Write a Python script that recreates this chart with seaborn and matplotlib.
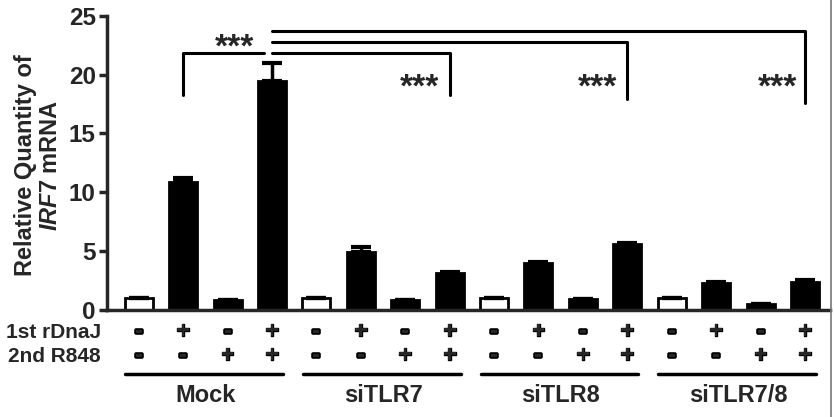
import numpy as np
import pandas as pd
import matplotlib
matplotlib.use('Agg')
import matplotlib.pyplot as plt
import matplotlib.transforms as mtransforms
import matplotlib.patheffects as pe
import seaborn as sns

sns.set_style('ticks')
plt.rcParams['font.family'] = ['Liberation Sans', 'DejaVu Sans']
plt.rcParams['font.weight'] = 'bold'
plt.rcParams['mathtext.fontset'] = 'custom'
plt.rcParams['mathtext.it'] = 'Liberation Sans:italic:bold'
plt.rcParams['mathtext.rm'] = 'Liberation Sans:bold'

# data
groups = ['Mock', 'siTLR7', 'siTLR8', 'siTLR7/8']
rdnaj = ['-', '+', '-', '+'] * 4
r848 = ['-', '-', '+', '+'] * 4
values = [1.0, 10.9, 0.85, 19.5,
          1.0, 4.95, 0.8, 3.1,
          1.0, 4.0, 0.95, 5.6,
          1.0, 2.3, 0.5, 2.4]
errors = [0, 0.35, 0, 1.45,
          0, 0.4, 0, 0.1,
          0, 0.05, 0, 0.05,
          0, 0.05, 0, 0.1]
fills = ['white' if (a == '-' and b == '-') else 'black' for a, b in zip(rdnaj, r848)]

df = pd.DataFrame({
    'bar': [str(i) for i in range(len(values))],
    'value': values,
    'fill': fills,
})

fig = plt.figure(figsize=(8.34, 4.17), dpi=100)
ax = fig.add_axes([0.128, 0.257, 0.867, 0.705])

sns.barplot(data=df, x='bar', y='value', hue='fill',
            palette={'white': 'white', 'black': 'black'},
            dodge=False, legend=False, width=0.63,
            edgecolor='black', linewidth=2, ax=ax)

xpos = np.arange(len(values))
ax.errorbar(xpos, values, yerr=[np.zeros(len(errors)), errors], fmt='none',
            ecolor='black', elinewidth=2.5, capsize=7, capthick=3)

ax.set_xlim(-0.72, 15.56)
ax.set_ylim(0, 25)
ax.set_yticks([0, 5, 10, 15, 20, 25])
ax.set_xticks([])
ax.set_xlabel('')
ax.set_ylabel('Relative Quantity of\n$\\mathit{IRF7}$ mRNA', fontsize=17,
              fontweight='bold', linespacing=1.1)
ax.yaxis.set_label_coords(-0.062, 0.493)
ax.tick_params(axis='y', labelsize=17.5, width=2.5, length=6, pad=2)
for lab in ax.get_yticklabels():
    lab.set_fontweight('bold')
sns.despine(ax=ax)
for s in ['left', 'bottom']:
    ax.spines[s].set_linewidth(2.5)

# significance brackets
lw = 2.2
ax.plot([1, 1, 2.82], [18.3, 21.8, 21.8], color='black', lw=lw, clip_on=False)
ax.text(2.16, 22.25, '***', ha='center', va='center', fontsize=24, fontweight='bold')
for end, top, bottom, sx in [(7, 21.85, 18.3, 6.33), (11, 22.8, 17.9, 10.34),
                             (15, 23.7, 17.6, 14.39)]:
    ax.plot([3.0, end, end], [top, top, bottom], color='black', lw=lw, clip_on=False)
    ax.text(sx, 18.9, '***', ha='center', va='center', fontsize=24, fontweight='bold')

# treatment table below the axis
trans = mtransforms.blended_transform_factory(ax.transData, fig.transFigure)
thick = {'-': [pe.withStroke(linewidth=2.6, foreground='black')],
         '+': [pe.withStroke(linewidth=1.0, foreground='black')]}
for i in range(len(values)):
    ax.text(i, 1 - 331 / 417, rdnaj[i], transform=trans, ha='center', va='center',
            fontsize=17, fontweight='bold', path_effects=thick[rdnaj[i]])
    ax.text(i, 1 - 355 / 417, r848[i], transform=trans, ha='center', va='center',
            fontsize=17, fontweight='bold', path_effects=thick[r848[i]])
fig.text(101 / 834, 1 - 332 / 417, '1st rDnaJ', ha='right', va='center',
         fontsize=15, fontweight='bold')
fig.text(101 / 834, 1 - 356 / 417, '2nd R848', ha='right', va='center',
         fontsize=15, fontweight='bold')
for g, name in enumerate(groups):
    ax.plot([g * 4 - 0.3, g * 4 + 3.25], [1 - 374 / 417] * 2, transform=trans,
            color='black', lw=2.5, clip_on=False)
    ax.text(g * 4 + 1.5, 1 - 395 / 417, name, transform=trans, ha='center',
            va='center', fontsize=17, fontweight='bold')

fig.add_artist(plt.Line2D([0.997, 0.997], [0, 1], color='#777777', lw=1.2))

fig.savefig('out.png', dpi=100, facecolor='white')
